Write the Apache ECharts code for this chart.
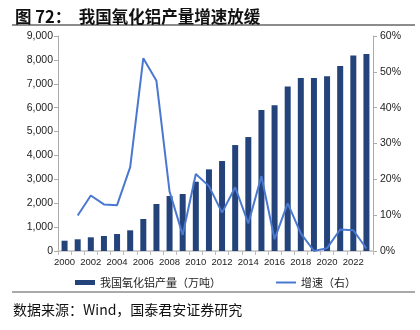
<!DOCTYPE html>
<html><head><meta charset="utf-8">
<script src="https://cdn.jsdelivr.net/npm/echarts@6/dist/echarts.min.js"></script>
<style>html,body{margin:0;padding:0;background:#fff}#c{width:420px;height:330px}</style>
</head><body><div id="c"></div>
<script>
var years = ['2000','2001','2002','2003','2004','2005','2006','2007','2008','2009','2010','2011','2012','2013','2014','2015','2016','2017','2018','2019','2020','2021','2022','2023'];
var output = [431,490,573,628,711,866,1339,1967,2301,2385,2900,3418,3766,4435,4770,5900,6096,6891,7238,7238,7310,7741,8188,8243];
var growth = [null,9.9,15.5,13.0,12.8,23.4,53.8,47.5,16.6,4.5,21.5,18.1,10.7,17.8,7.7,20.9,3.3,13.3,4.9,0,0.8,6.0,5.8,0.7];
var leftTicks = [0,1000,2000,3000,4000,5000,6000,7000,8000,9000];
var rightTicks = [0,10,20,30,40,50,60];
var barName = '我国氧化铝产量（万吨）';
var lineName = '增速（右）';
var titleText = '图 72：  我国氧化铝产量增速放缓';
var sourceText = '数据来源：Wind，国泰君安证券研究';

var chart = echarts.init(document.getElementById('c'), null, {renderer:'canvas'});
var lab = {fontFamily:'Liberation Sans, Arial, sans-serif', fontSize:10.5, color:'#222'};
var legText = {fontFamily:'Noto Sans CJK SC',fontSize:11,color:'#222'};
chart.setOption({
  animation:false,
  title:{text:titleText,left:10,top:3,textStyle:{fontFamily:'Noto Sans CJK SC',fontWeight:'bold',fontSize:16.5,color:'#111'}},
  graphic:[
    {type:'line',shape:{x1:12,y1:25,x2:415,y2:25},style:{stroke:'#8c8c8c',lineWidth:2}},
    {type:'line',shape:{x1:12,y1:292,x2:415,y2:292},style:{stroke:'#555',lineWidth:1}},
    {type:'text',left:13,top:303,style:{text:sourceText,font:'14px "Noto Sans CJK SC"',fill:'#111'}}
  ],
  legend:[
    {left:75,top:277,itemWidth:20,itemHeight:5,itemGap:4,padding:0,textStyle:legText,
     data:[{name:barName,icon:'rect'}]},
    {left:276,top:277,itemWidth:20,itemHeight:5,itemGap:4,padding:0,textStyle:legText,
     data:[{name:lineName,icon:'path://M0,0h20v2h-20z'}]}
  ],
  grid:{left:58,right:47,top:36,bottom:79},
  xAxis:{type:'category',data:years,
    axisLine:{lineStyle:{color:'#d0d0d0',width:2}},
    axisTick:{show:true,interval:0,length:4,lineStyle:{color:'#bbb'}},
    axisLabel:Object.assign({},lab,{interval:1,margin:6,fontSize:9.5})},
  yAxis:[
    {type:'value',min:0,max:9000,interval:1000,
     axisLine:{show:true,lineStyle:{color:'#aaa'}},
     axisTick:{show:true,length:4,lineStyle:{color:'#aaa'}},
     splitLine:{show:false},
     axisLabel:Object.assign({margin:5,formatter:function(v){return leftTicks.indexOf(v)>=0?v.toLocaleString('en-US'):'';}},lab)},
    {type:'value',min:0,max:60,interval:10,position:'right',
     axisLine:{show:true,lineStyle:{color:'#aaa'}},
     axisTick:{show:true,length:4,lineStyle:{color:'#aaa'}},
     splitLine:{show:false},
     axisLabel:Object.assign({margin:7,formatter:function(v){return rightTicks.indexOf(v)>=0?v+'%':'';}},lab)}
  ],
  series:[
    {name:barName,type:'bar',data:output,barWidth:6,itemStyle:{color:'#23437a'},yAxisIndex:0},
    {name:lineName,type:'line',data:growth,yAxisIndex:1,symbol:'none',
     lineStyle:{color:'#4a78d0',width:2},itemStyle:{color:'#4a78d0'}}
  ]
});
</script></body></html>
